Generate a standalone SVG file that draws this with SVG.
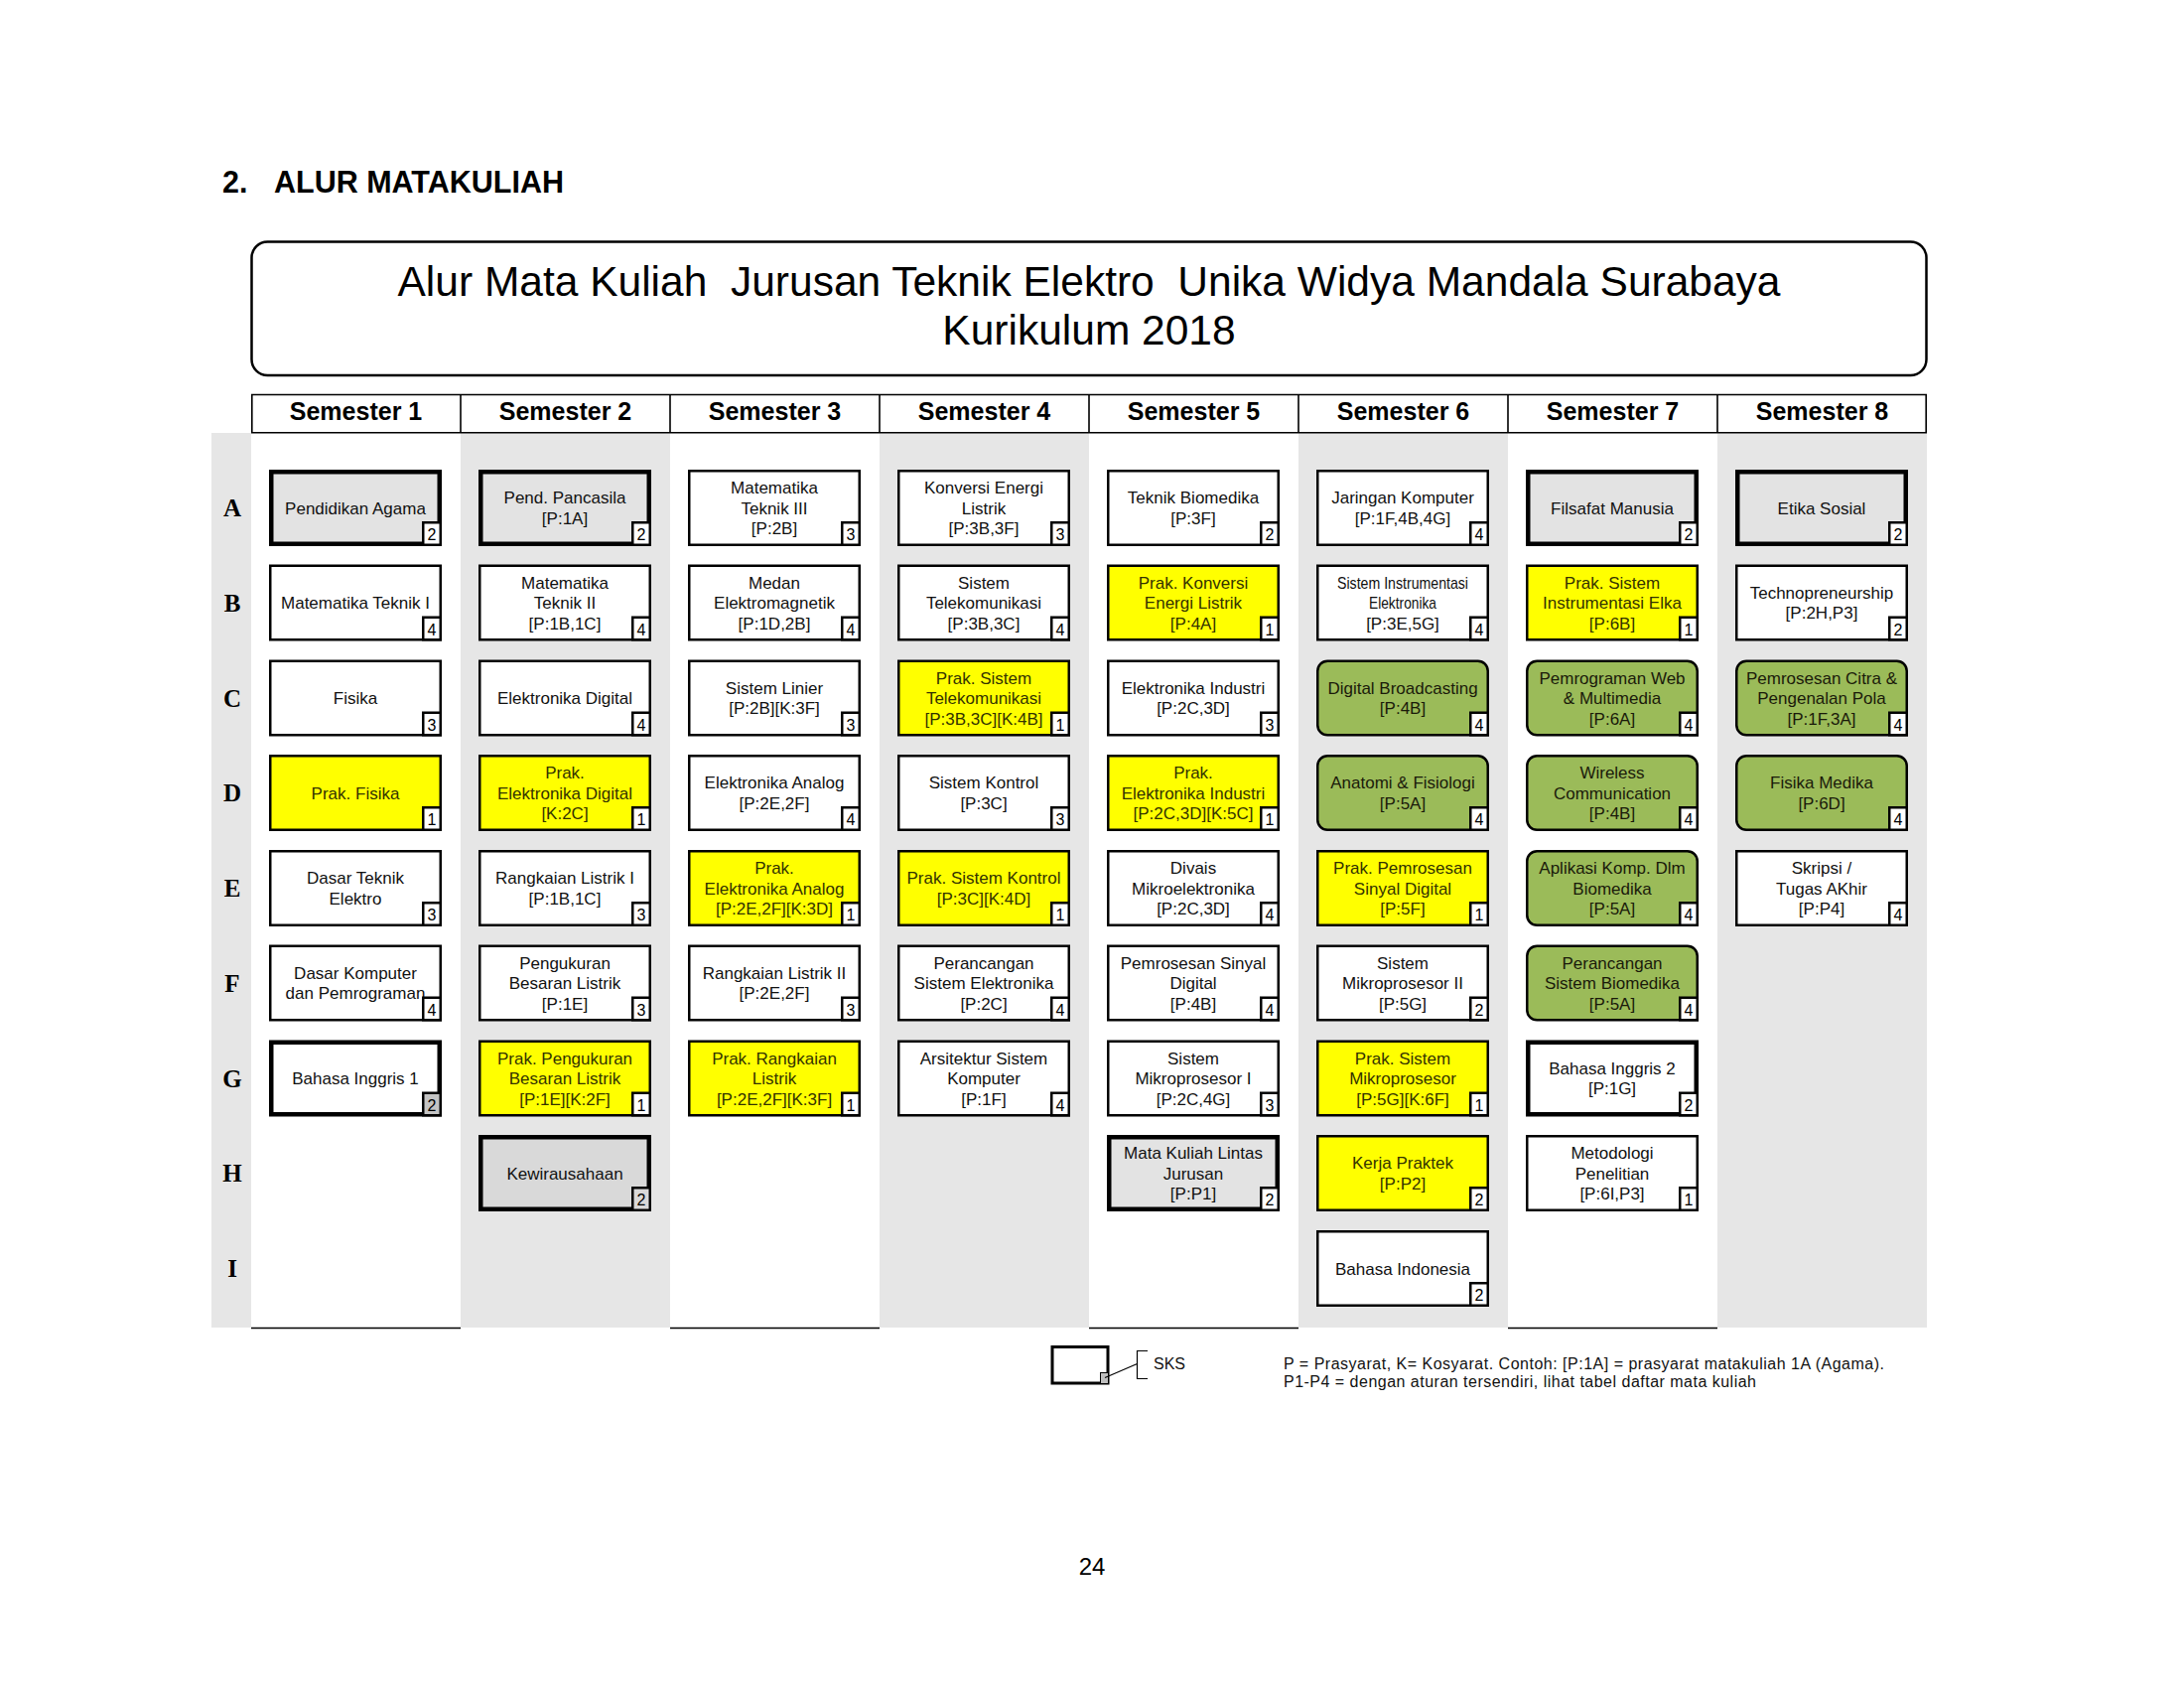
<svg xmlns="http://www.w3.org/2000/svg" xmlns:xlink="http://www.w3.org/1999/xlink" width="2200" height="1700" viewBox="0 0 2200 1700">
<style>
.bg{fill:#e6e6e6}
.ln{fill:none;stroke:#000;stroke-width:1.6}
.h2{font-family:"Liberation Sans",Arial,sans-serif;font-weight:bold;font-size:30.5px;fill:#000}
.ttl{font-family:"Liberation Sans",Arial,sans-serif;font-size:42.5px;text-anchor:middle;fill:#000;white-space:pre}
.sem{font-family:"Liberation Sans",Arial,sans-serif;font-weight:bold;font-size:25px;text-anchor:middle;fill:#000}
.rl{font-family:"Liberation Serif","Times New Roman",serif;font-weight:bold;font-size:25px;text-anchor:middle;fill:#000}
.b{stroke:#000;stroke-width:2.5}
.hv{stroke:#000;stroke-width:4.5}
.w{fill:#fff}.y{fill:#ffff00}.g{fill:#9bbb59}.gr{fill:#e3e3e3}.gd{fill:#d9d9d9}.gs{fill:#c4c4c4}
.t{font-family:"Liberation Sans",Arial,sans-serif;font-size:17px;text-anchor:middle;fill:#111}
.ty{fill:#333300}
.tg{fill:#1a1a0a}
.n{font-family:"Liberation Sans",Arial,sans-serif;font-size:16px;text-anchor:middle;fill:#000}
.lg{font-family:"Liberation Sans",Arial,sans-serif;font-size:16px;fill:#111}
.pg{font-family:"Liberation Sans",Arial,sans-serif;font-size:24px;text-anchor:middle;fill:#000}
</style>
<defs>
<rect id="rb" x="1.25" y="1.25" width="171.5" height="74.5"/>
<rect id="hb" x="2.25" y="2.25" width="169.5" height="72.5"/>
<path id="gb" d="M11.25,1.25 H162.75 A10,10 0 0 1 172.75,11.25 V75.75 H11.25 A10,10 0 0 1 1.25,65.75 V11.25 A10,10 0 0 1 11.25,1.25 Z"/>
<rect id="sk" x="155.25" y="53.25" width="17.5" height="22.5"/>
</defs>

<rect width="2200" height="1700" fill="#fff"/>

<text class="h2" x="224" y="194">2.<tspan x="276">ALUR MATAKULIAH</tspan></text>

<g id="title">
<rect x="253.5" y="243.5" width="1687" height="134.5" rx="16" fill="#fff" stroke="#000" stroke-width="2.5"/>
<text class="ttl" x="1097" y="298" xml:space="preserve">Alur Mata Kuliah  Jurusan Teknik Elektro  Unika Widya Mandala Surabaya</text>
<text class="ttl" x="1097" y="346.5">Kurikulum 2018</text>
</g>

<g id="grid">
<rect class="bg" x="213" y="436" width="40" height="901"/>
<rect class="bg" x="464" y="436" width="211" height="901"/>
<rect class="bg" x="886" y="436" width="211" height="901"/>
<rect class="bg" x="1308" y="436" width="211" height="901"/>
<rect class="bg" x="1730" y="436" width="211" height="901"/>
<path class="ln" d="M253,397.5H1941M253,435.8H1941M253.8,397.5V435.8M464,397.5V435.8M675,397.5V435.8M886,397.5V435.8M1097,397.5V435.8M1308,397.5V435.8M1519,397.5V435.8M1730,397.5V435.8M1940.2,397.5V435.8"/>
<path class="ln" d="M253,1337.5H464M675,1337.5H886M1097,1337.5H1308M1519,1337.5H1730"/>
<text class="sem" x="358.5" y="423">Semester 1</text>
<text class="sem" x="569.5" y="423">Semester 2</text>
<text class="sem" x="780.5" y="423">Semester 3</text>
<text class="sem" x="991.5" y="423">Semester 4</text>
<text class="sem" x="1202.5" y="423">Semester 5</text>
<text class="sem" x="1413.5" y="423">Semester 6</text>
<text class="sem" x="1624.5" y="423">Semester 7</text>
<text class="sem" x="1835.5" y="423">Semester 8</text>
<text class="rl" x="234" y="520">A</text>
<text class="rl" x="234" y="616">B</text>
<text class="rl" x="234" y="712">C</text>
<text class="rl" x="234" y="807">D</text>
<text class="rl" x="234" y="903">E</text>
<text class="rl" x="234" y="999">F</text>
<text class="rl" x="234" y="1095">G</text>
<text class="rl" x="234" y="1190">H</text>
<text class="rl" x="234" y="1286">I</text>
</g>

<g id="connectors"></g>

<!-- Semester 1 -->
<g id="n1A" transform="translate(271,473)"><use href="#hb" class="hv gr"/><text class="t" x="87" y="44.6">Pendidikan Agama</text><use href="#sk" class="b w"/><text class="n" x="164" y="71">2</text></g>
<g id="n1B" transform="translate(271,568.5)"><use href="#rb" class="b w"/><text class="t" x="87" y="44.6">Matematika Teknik I</text><use href="#sk" class="b w"/><text class="n" x="164" y="71">4</text></g>
<g id="n1C" transform="translate(271,664.5)"><use href="#rb" class="b w"/><text class="t" x="87" y="44.6">Fisika</text><use href="#sk" class="b w"/><text class="n" x="164" y="71">3</text></g>
<g id="n1D" transform="translate(271,760)"><use href="#rb" class="b y"/><text class="t ty" x="87" y="44.6">Prak. Fisika</text><use href="#sk" class="b w"/><text class="n" x="164" y="71">1</text></g>
<g id="n1E" transform="translate(271,856)"><use href="#rb" class="b w"/><text class="t" x="87" y="34.35">Dasar Teknik<tspan x="87" y="54.85">Elektro</tspan></text><use href="#sk" class="b w"/><text class="n" x="164" y="71">3</text></g>
<g id="n1F" transform="translate(271,951.5)"><use href="#rb" class="b w"/><text class="t" x="87" y="34.35">Dasar Komputer<tspan x="87" y="54.85">dan Pemrograman</tspan></text><use href="#sk" class="b w"/><text class="n" x="164" y="71">4</text></g>
<g id="n1G" transform="translate(271,1047.5)"><use href="#hb" class="hv w"/><text class="t" x="87" y="44.6">Bahasa Inggris 1</text><use href="#sk" class="b gs"/><text class="n" x="164" y="71">2</text></g>

<!-- Semester 2 -->
<g id="n2A" transform="translate(482,473)"><use href="#hb" class="hv gr"/><text class="t" x="87" y="34.35">Pend. Pancasila<tspan x="87" y="54.85">[P:1A]</tspan></text><use href="#sk" class="b w"/><text class="n" x="164" y="71">2</text></g>
<g id="n2B" transform="translate(482,568.5)"><use href="#rb" class="b w"/><text class="t" x="87" y="24.1">Matematika<tspan x="87" y="44.6">Teknik II</tspan><tspan x="87" y="65.1">[P:1B,1C]</tspan></text><use href="#sk" class="b w"/><text class="n" x="164" y="71">4</text></g>
<g id="n2C" transform="translate(482,664.5)"><use href="#rb" class="b w"/><text class="t" x="87" y="44.6">Elektronika Digital</text><use href="#sk" class="b w"/><text class="n" x="164" y="71">4</text></g>
<g id="n2D" transform="translate(482,760)"><use href="#rb" class="b y"/><text class="t ty" x="87" y="24.1">Prak.<tspan x="87" y="44.6">Elektronika Digital</tspan><tspan x="87" y="65.1">[K:2C]</tspan></text><use href="#sk" class="b w"/><text class="n" x="164" y="71">1</text></g>
<g id="n2E" transform="translate(482,856)"><use href="#rb" class="b w"/><text class="t" x="87" y="34.35">Rangkaian Listrik I<tspan x="87" y="54.85">[P:1B,1C]</tspan></text><use href="#sk" class="b w"/><text class="n" x="164" y="71">3</text></g>
<g id="n2F" transform="translate(482,951.5)"><use href="#rb" class="b w"/><text class="t" x="87" y="24.1">Pengukuran<tspan x="87" y="44.6">Besaran Listrik</tspan><tspan x="87" y="65.1">[P:1E]</tspan></text><use href="#sk" class="b w"/><text class="n" x="164" y="71">3</text></g>
<g id="n2G" transform="translate(482,1047.5)"><use href="#rb" class="b y"/><text class="t ty" x="87" y="24.1">Prak. Pengukuran<tspan x="87" y="44.6">Besaran Listrik</tspan><tspan x="87" y="65.1">[P:1E][K:2F]</tspan></text><use href="#sk" class="b w"/><text class="n" x="164" y="71">1</text></g>
<g id="n2H" transform="translate(482,1143)"><use href="#hb" class="hv gd"/><text class="t" x="87" y="44.6">Kewirausahaan</text><use href="#sk" class="b gd"/><text class="n" x="164" y="71">2</text></g>

<!-- Semester 3 -->
<g id="n3A" transform="translate(693,473)"><use href="#rb" class="b w"/><text class="t" x="87" y="24.1">Matematika<tspan x="87" y="44.6">Teknik III</tspan><tspan x="87" y="65.1">[P:2B]</tspan></text><use href="#sk" class="b w"/><text class="n" x="164" y="71">3</text></g>
<g id="n3B" transform="translate(693,568.5)"><use href="#rb" class="b w"/><text class="t" x="87" y="24.1">Medan<tspan x="87" y="44.6">Elektromagnetik</tspan><tspan x="87" y="65.1">[P:1D,2B]</tspan></text><use href="#sk" class="b w"/><text class="n" x="164" y="71">4</text></g>
<g id="n3C" transform="translate(693,664.5)"><use href="#rb" class="b w"/><text class="t" x="87" y="34.35">Sistem Linier<tspan x="87" y="54.85">[P:2B][K:3F]</tspan></text><use href="#sk" class="b w"/><text class="n" x="164" y="71">3</text></g>
<g id="n3D" transform="translate(693,760)"><use href="#rb" class="b w"/><text class="t" x="87" y="34.35">Elektronika Analog<tspan x="87" y="54.85">[P:2E,2F]</tspan></text><use href="#sk" class="b w"/><text class="n" x="164" y="71">4</text></g>
<g id="n3E" transform="translate(693,856)"><use href="#rb" class="b y"/><text class="t ty" x="87" y="24.1">Prak.<tspan x="87" y="44.6">Elektronika Analog</tspan><tspan x="87" y="65.1">[P:2E,2F][K:3D]</tspan></text><use href="#sk" class="b w"/><text class="n" x="164" y="71">1</text></g>
<g id="n3F" transform="translate(693,951.5)"><use href="#rb" class="b w"/><text class="t" x="87" y="34.35">Rangkaian Listrik II<tspan x="87" y="54.85">[P:2E,2F]</tspan></text><use href="#sk" class="b w"/><text class="n" x="164" y="71">3</text></g>
<g id="n3G" transform="translate(693,1047.5)"><use href="#rb" class="b y"/><text class="t ty" x="87" y="24.1">Prak. Rangkaian<tspan x="87" y="44.6">Listrik</tspan><tspan x="87" y="65.1">[P:2E,2F][K:3F]</tspan></text><use href="#sk" class="b w"/><text class="n" x="164" y="71">1</text></g>

<!-- Semester 4 -->
<g id="n4A" transform="translate(904,473)"><use href="#rb" class="b w"/><text class="t" x="87" y="24.1">Konversi Energi<tspan x="87" y="44.6">Listrik</tspan><tspan x="87" y="65.1">[P:3B,3F]</tspan></text><use href="#sk" class="b w"/><text class="n" x="164" y="71">3</text></g>
<g id="n4B" transform="translate(904,568.5)"><use href="#rb" class="b w"/><text class="t" x="87" y="24.1">Sistem<tspan x="87" y="44.6">Telekomunikasi</tspan><tspan x="87" y="65.1">[P:3B,3C]</tspan></text><use href="#sk" class="b w"/><text class="n" x="164" y="71">4</text></g>
<g id="n4C" transform="translate(904,664.5)"><use href="#rb" class="b y"/><text class="t ty" x="87" y="24.1">Prak. Sistem<tspan x="87" y="44.6">Telekomunikasi</tspan><tspan x="87" y="65.1">[P:3B,3C][K:4B]</tspan></text><use href="#sk" class="b w"/><text class="n" x="164" y="71">1</text></g>
<g id="n4D" transform="translate(904,760)"><use href="#rb" class="b w"/><text class="t" x="87" y="34.35">Sistem Kontrol<tspan x="87" y="54.85">[P:3C]</tspan></text><use href="#sk" class="b w"/><text class="n" x="164" y="71">3</text></g>
<g id="n4E" transform="translate(904,856)"><use href="#rb" class="b y"/><text class="t ty" x="87" y="34.35">Prak. Sistem Kontrol<tspan x="87" y="54.85">[P:3C][K:4D]</tspan></text><use href="#sk" class="b w"/><text class="n" x="164" y="71">1</text></g>
<g id="n4F" transform="translate(904,951.5)"><use href="#rb" class="b w"/><text class="t" x="87" y="24.1">Perancangan<tspan x="87" y="44.6">Sistem Elektronika</tspan><tspan x="87" y="65.1">[P:2C]</tspan></text><use href="#sk" class="b w"/><text class="n" x="164" y="71">4</text></g>
<g id="n4G" transform="translate(904,1047.5)"><use href="#rb" class="b w"/><text class="t" x="87" y="24.1">Arsitektur Sistem<tspan x="87" y="44.6">Komputer</tspan><tspan x="87" y="65.1">[P:1F]</tspan></text><use href="#sk" class="b w"/><text class="n" x="164" y="71">4</text></g>

<!-- Semester 5 -->
<g id="n5A" transform="translate(1115,473)"><use href="#rb" class="b w"/><text class="t" x="87" y="34.35">Teknik Biomedika<tspan x="87" y="54.85">[P:3F]</tspan></text><use href="#sk" class="b w"/><text class="n" x="164" y="71">2</text></g>
<g id="n5B" transform="translate(1115,568.5)"><use href="#rb" class="b y"/><text class="t ty" x="87" y="24.1">Prak. Konversi<tspan x="87" y="44.6">Energi Listrik</tspan><tspan x="87" y="65.1">[P:4A]</tspan></text><use href="#sk" class="b w"/><text class="n" x="164" y="71">1</text></g>
<g id="n5C" transform="translate(1115,664.5)"><use href="#rb" class="b w"/><text class="t" x="87" y="34.35">Elektronika Industri<tspan x="87" y="54.85">[P:2C,3D]</tspan></text><use href="#sk" class="b w"/><text class="n" x="164" y="71">3</text></g>
<g id="n5D" transform="translate(1115,760)"><use href="#rb" class="b y"/><text class="t ty" x="87" y="24.1">Prak.<tspan x="87" y="44.6">Elektronika Industri</tspan><tspan x="87" y="65.1">[P:2C,3D][K:5C]</tspan></text><use href="#sk" class="b w"/><text class="n" x="164" y="71">1</text></g>
<g id="n5E" transform="translate(1115,856)"><use href="#rb" class="b w"/><text class="t" x="87" y="24.1">Divais<tspan x="87" y="44.6">Mikroelektronika</tspan><tspan x="87" y="65.1">[P:2C,3D]</tspan></text><use href="#sk" class="b w"/><text class="n" x="164" y="71">4</text></g>
<g id="n5F" transform="translate(1115,951.5)"><use href="#rb" class="b w"/><text class="t" x="87" y="24.1">Pemrosesan Sinyal<tspan x="87" y="44.6">Digital</tspan><tspan x="87" y="65.1">[P:4B]</tspan></text><use href="#sk" class="b w"/><text class="n" x="164" y="71">4</text></g>
<g id="n5G" transform="translate(1115,1047.5)"><use href="#rb" class="b w"/><text class="t" x="87" y="24.1">Sistem<tspan x="87" y="44.6">Mikroprosesor I</tspan><tspan x="87" y="65.1">[P:2C,4G]</tspan></text><use href="#sk" class="b w"/><text class="n" x="164" y="71">3</text></g>
<g id="n5H" transform="translate(1115,1143)"><use href="#hb" class="hv gr"/><text class="t" x="87" y="24.1">Mata Kuliah Lintas<tspan x="87" y="44.6">Jurusan</tspan><tspan x="87" y="65.1">[P:P1]</tspan></text><use href="#sk" class="b w"/><text class="n" x="164" y="71">2</text></g>

<!-- Semester 6 -->
<g id="n6A" transform="translate(1326,473)"><use href="#rb" class="b w"/><text class="t" x="87" y="34.35">Jaringan Komputer<tspan x="87" y="54.85">[P:1F,4B,4G]</tspan></text><use href="#sk" class="b w"/><text class="n" x="164" y="71">4</text></g>
<g id="n6B" transform="translate(1326,568.5)"><use href="#rb" class="b w"/><text class="t" x="87" y="24.1" textLength="132" lengthAdjust="spacingAndGlyphs">Sistem Instrumentasi</text><text class="t" x="87" y="44.6" textLength="68" lengthAdjust="spacingAndGlyphs">Elektronika</text><text class="t" x="87" y="65.1">[P:3E,5G]</text><use href="#sk" class="b w"/><text class="n" x="164" y="71">4</text></g>
<g id="n6C" transform="translate(1326,664.5)"><use href="#gb" class="b g"/><text class="t tg" x="87" y="34.35">Digital Broadcasting<tspan x="87" y="54.85">[P:4B]</tspan></text><use href="#sk" class="b w"/><text class="n" x="164" y="71">4</text></g>
<g id="n6D" transform="translate(1326,760)"><use href="#gb" class="b g"/><text class="t tg" x="87" y="34.35">Anatomi &amp; Fisiologi<tspan x="87" y="54.85">[P:5A]</tspan></text><use href="#sk" class="b w"/><text class="n" x="164" y="71">4</text></g>
<g id="n6E" transform="translate(1326,856)"><use href="#rb" class="b y"/><text class="t ty" x="87" y="24.1">Prak. Pemrosesan<tspan x="87" y="44.6">Sinyal Digital</tspan><tspan x="87" y="65.1">[P:5F]</tspan></text><use href="#sk" class="b w"/><text class="n" x="164" y="71">1</text></g>
<g id="n6F" transform="translate(1326,951.5)"><use href="#rb" class="b w"/><text class="t" x="87" y="24.1">Sistem<tspan x="87" y="44.6">Mikroprosesor II</tspan><tspan x="87" y="65.1">[P:5G]</tspan></text><use href="#sk" class="b w"/><text class="n" x="164" y="71">2</text></g>
<g id="n6G" transform="translate(1326,1047.5)"><use href="#rb" class="b y"/><text class="t ty" x="87" y="24.1">Prak. Sistem<tspan x="87" y="44.6">Mikroprosesor</tspan><tspan x="87" y="65.1">[P:5G][K:6F]</tspan></text><use href="#sk" class="b w"/><text class="n" x="164" y="71">1</text></g>
<g id="n6H" transform="translate(1326,1143)"><use href="#rb" class="b y"/><text class="t ty" x="87" y="34.35">Kerja Praktek<tspan x="87" y="54.85">[P:P2]</tspan></text><use href="#sk" class="b w"/><text class="n" x="164" y="71">2</text></g>
<g id="n6I" transform="translate(1326,1239)"><use href="#rb" class="b w"/><text class="t" x="87" y="44.6">Bahasa Indonesia</text><use href="#sk" class="b w"/><text class="n" x="164" y="71">2</text></g>

<!-- Semester 7 -->
<g id="n7A" transform="translate(1537,473)"><use href="#hb" class="hv gr"/><text class="t" x="87" y="44.6">Filsafat Manusia</text><use href="#sk" class="b w"/><text class="n" x="164" y="71">2</text></g>
<g id="n7B" transform="translate(1537,568.5)"><use href="#rb" class="b y"/><text class="t ty" x="87" y="24.1">Prak. Sistem<tspan x="87" y="44.6">Instrumentasi Elka</tspan><tspan x="87" y="65.1">[P:6B]</tspan></text><use href="#sk" class="b w"/><text class="n" x="164" y="71">1</text></g>
<g id="n7C" transform="translate(1537,664.5)"><use href="#gb" class="b g"/><text class="t tg" x="87" y="24.1">Pemrograman Web<tspan x="87" y="44.6">&amp; Multimedia</tspan><tspan x="87" y="65.1">[P:6A]</tspan></text><use href="#sk" class="b w"/><text class="n" x="164" y="71">4</text></g>
<g id="n7D" transform="translate(1537,760)"><use href="#gb" class="b g"/><text class="t tg" x="87" y="24.1">Wireless<tspan x="87" y="44.6">Communication</tspan><tspan x="87" y="65.1">[P:4B]</tspan></text><use href="#sk" class="b w"/><text class="n" x="164" y="71">4</text></g>
<g id="n7E" transform="translate(1537,856)"><use href="#gb" class="b g"/><text class="t tg" x="87" y="24.1">Aplikasi Komp. Dlm<tspan x="87" y="44.6">Biomedika</tspan><tspan x="87" y="65.1">[P:5A]</tspan></text><use href="#sk" class="b w"/><text class="n" x="164" y="71">4</text></g>
<g id="n7F" transform="translate(1537,951.5)"><use href="#gb" class="b g"/><text class="t tg" x="87" y="24.1">Perancangan<tspan x="87" y="44.6">Sistem Biomedika</tspan><tspan x="87" y="65.1">[P:5A]</tspan></text><use href="#sk" class="b w"/><text class="n" x="164" y="71">4</text></g>
<g id="n7G" transform="translate(1537,1047.5)"><use href="#hb" class="hv w"/><text class="t" x="87" y="34.35">Bahasa Inggris 2<tspan x="87" y="54.85">[P:1G]</tspan></text><use href="#sk" class="b w"/><text class="n" x="164" y="71">2</text></g>
<g id="n7H" transform="translate(1537,1143)"><use href="#rb" class="b w"/><text class="t" x="87" y="24.1">Metodologi<tspan x="87" y="44.6">Penelitian</tspan><tspan x="87" y="65.1">[P:6I,P3]</tspan></text><use href="#sk" class="b w"/><text class="n" x="164" y="71">1</text></g>

<!-- Semester 8 -->
<g id="n8A" transform="translate(1748,473)"><use href="#hb" class="hv gr"/><text class="t" x="87" y="44.6">Etika Sosial</text><use href="#sk" class="b w"/><text class="n" x="164" y="71">2</text></g>
<g id="n8B" transform="translate(1748,568.5)"><use href="#rb" class="b w"/><text class="t" x="87" y="34.35">Technopreneurship<tspan x="87" y="54.85">[P:2H,P3]</tspan></text><use href="#sk" class="b w"/><text class="n" x="164" y="71">2</text></g>
<g id="n8C" transform="translate(1748,664.5)"><use href="#gb" class="b g"/><text class="t tg" x="87" y="24.1">Pemrosesan Citra &amp;<tspan x="87" y="44.6">Pengenalan Pola</tspan><tspan x="87" y="65.1">[P:1F,3A]</tspan></text><use href="#sk" class="b w"/><text class="n" x="164" y="71">4</text></g>
<g id="n8D" transform="translate(1748,760)"><use href="#gb" class="b g"/><text class="t tg" x="87" y="34.35">Fisika Medika<tspan x="87" y="54.85">[P:6D]</tspan></text><use href="#sk" class="b w"/><text class="n" x="164" y="71">4</text></g>
<g id="n8E" transform="translate(1748,856)"><use href="#rb" class="b w"/><text class="t" x="87" y="24.1">Skripsi /<tspan x="87" y="44.6">Tugas AKhir</tspan><tspan x="87" y="65.1">[P:P4]</tspan></text><use href="#sk" class="b w"/><text class="n" x="164" y="71">4</text></g>

<g id="legend">
<rect x="1060" y="1356.5" width="56" height="36.5" fill="#fff" stroke="#000" stroke-width="3"/>
<rect x="1108.5" y="1382.5" width="8" height="11" fill="#bfbfbf" stroke="#000" stroke-width="1"/>
<path d="M1113,1387.5L1145.5,1373.5M1156,1360.5H1145.5V1388.5H1156" fill="none" stroke="#000" stroke-width="1.2"/>
<text class="lg" x="1162" y="1379">SKS</text>
<text class="lg" x="1293" y="1379" textLength="605">P = Prasyarat, K= Kosyarat. Contoh: [P:1A] = prasyarat matakuliah 1A (Agama).</text>
<text class="lg" x="1293" y="1397" textLength="476">P1-P4 = dengan aturan tersendiri, lihat tabel daftar mata kuliah</text>
</g>

<text class="pg" x="1100" y="1585.5">24</text>
</svg>
